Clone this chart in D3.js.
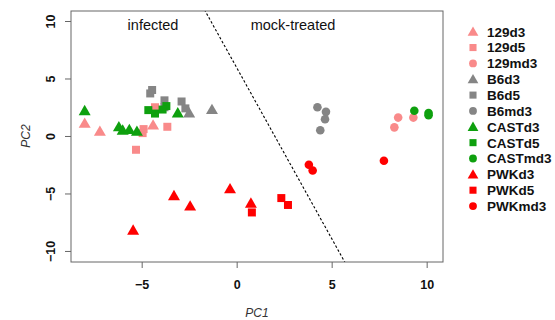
<!DOCTYPE html>
<html><head><meta charset="utf-8">
<script src="https://cdn.jsdelivr.net/npm/d3@7"></script>
<style>body{margin:0;background:#fff}svg{display:block;font-family:"Liberation Sans",Arial,sans-serif}</style>
</head><body><svg id="c" width="555" height="320"></svg>
<script>
const groups = ["129d3","129d5","129md3","B6d3","B6d5","B6md3","CASTd3","CASTd5","CASTmd3","PWKd3","PWKd5","PWKmd3"];
const strains = ["129","129","129","B6","B6","B6","CAST","CAST","CAST","PWK","PWK","PWK"];
const shapes = ["triangle","square","circle","triangle","square","circle","triangle","square","circle","triangle","square","circle"];
const pc1_129d3 = [-8.0,-7.2,-4.4];
const pc2_129d3 = [1.1,0.4,0.95];
const pc1_129d5 = [-5.3,-4.9,-4.95,-4.3,-3.65];
const pc2_129d5 = [-1.2,0.6,0.25,2.5,0.8];
const pc1_129md3 = [8.5,8.3,9.3];
const pc2_129md3 = [1.6,0.75,1.6];
const pc1_B6d3 = [-2.5,-1.3];
const pc2_B6d3 = [2.0,2.3];
const pc1_B6d5 = [-4.45,-4.55,-3.8,-3.8,-2.9,-2.7];
const pc2_B6d5 = [4.0,3.7,3.1,2.5,3.0,2.4];
const pc1_B6md3 = [4.25,4.7,4.65,4.4];
const pc2_B6md3 = [2.5,2.1,1.45,0.5];
const pc1_CASTd3 = [-8.0,-6.2,-6.0,-5.65,-5.25,-3.1];
const pc2_CASTd3 = [2.2,0.8,0.5,0.55,0.4,2.0];
const pc1_CASTd5 = [-4.65,-4.3,-3.7,-3.9];
const pc2_CASTd5 = [2.25,1.95,2.6,2.3];
const pc1_CASTmd3 = [9.35,10.1,10.1];
const pc2_CASTmd3 = [2.2,2.0,1.8];
const pc1_PWKd3 = [-5.45,-3.3,-2.45,-0.35,0.75];
const pc2_PWKd3 = [-8.2,-5.2,-6.1,-4.6,-5.85];
const pc1_PWKd5 = [0.8,2.35,2.7];
const pc2_PWKd5 = [-6.65,-5.4,-6.0];
const pc1_PWKmd3 = [3.8,4.0,7.75];
const pc2_PWKmd3 = [-2.5,-3.0,-2.15];
const xTicks = [-5,0,5,10];
const yTicks = [-10,-5,0,5,10];
const sepLineX = [-1.7,5.7];
const sepLineY = [11,-11];
const regionLabels = ["infected","mock-treated"];
const strainColor = {"129":"#f98a8a","B6":"#858585","CAST":"#0ea00e","PWK":"#ff0000"};

const pc1 = {"129d3":pc1_129d3,"129d5":pc1_129d5,"129md3":pc1_129md3,"B6d3":pc1_B6d3,"B6d5":pc1_B6d5,"B6md3":pc1_B6md3,"CASTd3":pc1_CASTd3,"CASTd5":pc1_CASTd5,"CASTmd3":pc1_CASTmd3,"PWKd3":pc1_PWKd3,"PWKd5":pc1_PWKd5,"PWKmd3":pc1_PWKmd3};
const pc2 = {"129d3":pc2_129d3,"129d5":pc2_129d5,"129md3":pc2_129md3,"B6d3":pc2_B6d3,"B6d5":pc2_B6d5,"B6md3":pc2_B6md3,"CASTd3":pc2_CASTd3,"CASTd5":pc2_CASTd5,"CASTmd3":pc2_CASTmd3,"PWKd3":pc2_PWKd3,"PWKd5":pc2_PWKd5,"PWKmd3":pc2_PWKmd3};

const L=71,R=443,T=11,B=262;
const x = d3.scaleLinear().domain([-8.72,10.86]).range([L,R]);
const y = d3.scaleLinear().domain([-10.96,10.87]).range([B,T]);
const svg = d3.select("#c");

const symType = {triangle:d3.symbolTriangle,square:d3.symbolSquare,circle:d3.symbolCircle};
const symSize = {triangle:62,square:64,circle:58};
const legSize = {triangle:50,square:50,circle:48};

svg.append("defs").append("clipPath").attr("id","clip").append("rect")
  .attr("x",L).attr("y",T).attr("width",R-L).attr("height",B-T);

// points
const pts = [];
groups.forEach((g,i)=>{
  pc1[g].forEach((v,j)=>pts.push({g,shape:shapes[i],strain:strains[i],x:v,y:pc2[g][j]}));
});
svg.append("g").selectAll("path").data(pts).join("path")
  .attr("transform",d=>{const dy = d.shape==="triangle"?1:0; return `translate(${x(d.x)},${y(d.y)+dy})`;})
  .attr("d",d=>d3.symbol(symType[d.shape],symSize[d.shape])())
  .attr("fill",d=>strainColor[d.strain]);

// separator line
svg.append("line").attr("clip-path","url(#clip)")
  .attr("x1",x(sepLineX[0])).attr("y1",y(sepLineY[0]))
  .attr("x2",x(sepLineX[1])).attr("y2",y(sepLineY[1]))
  .attr("stroke","#000").attr("stroke-width",1.1).attr("stroke-dasharray","2.5,2");

// box
svg.append("rect").attr("x",L).attr("y",T).attr("width",R-L).attr("height",B-T)
  .attr("fill","none").attr("stroke","#666").attr("stroke-width",1);

// axes
const xa = svg.append("g").attr("transform",`translate(0,${B})`)
  .call(d3.axisBottom(x).tickValues(xTicks).tickSize(6).tickPadding(12).tickFormat(d3.format("d")));
xa.select(".domain").remove();
xa.selectAll("line").attr("stroke","#666");
xa.selectAll("text").attr("font-size",12.5).attr("font-weight","bold").attr("fill","#111")
  .attr("font-family","Liberation Sans, Arial, sans-serif");

const ya = svg.append("g").attr("transform",`translate(${L},0)`)
  .call(d3.axisLeft(y).tickValues(yTicks).tickSize(6).tickFormat(d3.format("d")));
ya.select(".domain").remove();
ya.selectAll("line").attr("stroke","#666");
ya.selectAll("text").attr("font-size",12.5).attr("font-weight","bold").attr("fill","#111")
  .attr("font-family","Liberation Sans, Arial, sans-serif")
  .attr("x",null).attr("dy","0.35em")
  .attr("text-anchor","middle")
  .attr("transform","translate(-20,0) rotate(-90)");

// axis titles
svg.append("text").attr("x",(L+R)/2).attr("y",317).attr("text-anchor","middle")
  .attr("font-size",12).attr("font-style","italic").attr("fill","#333").text("PC1");
svg.append("text").attr("transform",`translate(30,${y(0)}) rotate(-90)`).attr("text-anchor","middle")
  .attr("font-size",12).attr("font-style","italic").attr("fill","#333").text("PC2");

// region labels
svg.append("text").attr("x",153).attr("y",30).attr("text-anchor","middle").attr("font-size",14.5).attr("fill","#111").text(regionLabels[0]);
svg.append("text").attr("x",293).attr("y",30).attr("text-anchor","middle").attr("font-size",14.5).attr("fill","#111").text(regionLabels[1]);

// legend
const lg = svg.append("g");
groups.forEach((g,i)=>{
  const yy = 31.7 + i*15.85;
  lg.append("path").attr("transform",`translate(473,${yy + (shapes[i]==="triangle"?1:0)})`)
    .attr("d",d3.symbol(symType[shapes[i]],legSize[shapes[i]])())
    .attr("fill",strainColor[strains[i]]);
  lg.append("text").attr("x",487).attr("y",yy).attr("dy","0.36em")
    .attr("font-size",13.5).attr("font-weight","bold").attr("fill","#111").text(g);
});
</script></body></html>
